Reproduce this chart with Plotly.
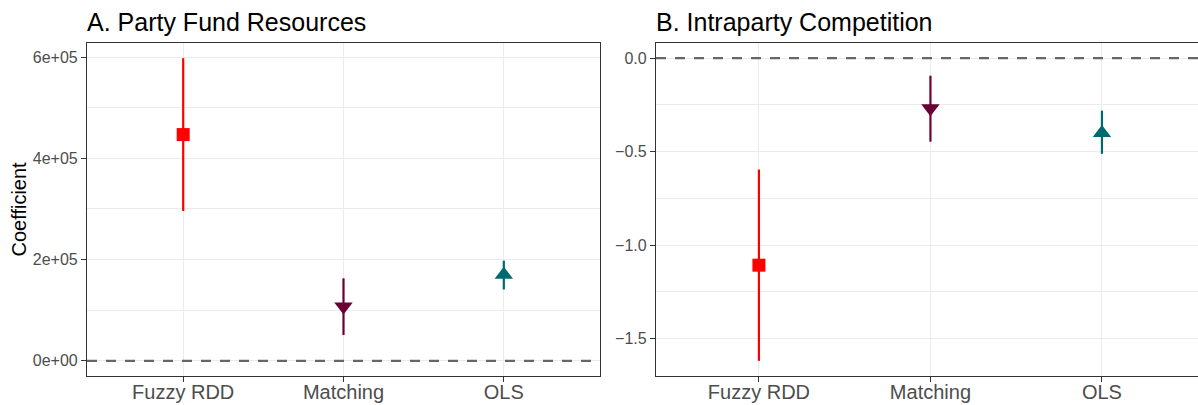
import plotly.graph_objects as go

# ---- data ----
methods = ["Fuzzy RDD", "Matching", "OLS"]

fund_coef = [447000, 107500, 170000]
fund_lo = [296000, 51000, 141000]
fund_hi = [598000, 163000, 198000]

comp_coef = [-1.108, -0.268, -0.401]
comp_lo = [-1.62, -0.447, -0.512]
comp_hi = [-0.596, -0.094, -0.281]

colors = ["#FF0000", "#6A0034", "#00696F"]
symbols = ["square", "triangle-down", "triangle-up"]
sizes = [13, 16, 16]

fund_ticks = [0, 200000, 400000, 600000]
fund_ticktext = ["0e+00", "2e+05", "4e+05", "6e+05"]
fund_minor = [100000, 300000, 500000]
comp_ticks = [-1.5, -1.0, -0.5, 0.0]
comp_ticktext = ["\u22121.5", "\u22121.0", "\u22120.5", "0.0"]
comp_minor = [-1.25, -0.75, -0.25]

titles = ["A. Party Fund Resources", "B. Intraparty Competition"]

# ---- layout geometry ----
W, H = 1198, 405
ml, mr, mt, mb = 87, 0, 43, 29
pw = W - ml - mr
domA = [0, (600 - ml) / pw]
domB = [(656 - ml) / pw, 1.0]

FONT = "Liberation Sans, Arial, Helvetica, sans-serif"
GRID = "#EBEBEB"
AX = "#333333"
TICKC = "#4D4D4D"

fig = go.Figure()

def add_panel(coef, lo, hi, xa, ya):
    for i, m in enumerate(methods):
        fig.add_trace(go.Scatter(
            x=[m], y=[coef[i]], mode="markers",
            xaxis=xa, yaxis=ya,
            marker=dict(symbol=symbols[i], color=colors[i], size=sizes[i], line=dict(width=0)),
            error_y=dict(type="data", symmetric=False,
                         array=[hi[i] - coef[i]], arrayminus=[coef[i] - lo[i]],
                         color=colors[i], thickness=2.2, width=0),
            showlegend=False, hoverinfo="skip",
        ))

add_panel(fund_coef, fund_lo, fund_hi, "x", "y")
add_panel(comp_coef, comp_lo, comp_hi, "x2", "y2")

xcommon = dict(type="category", categoryorder="array", categoryarray=methods,
               showline=True, linecolor=AX, linewidth=1.2,
               ticks="outside", ticklen=5, tickwidth=1.1, tickcolor=AX,
               ticklabelstandoff=-7,
               showgrid=True, gridcolor=GRID, gridwidth=1.2,
               tickfont=dict(family=FONT, size=20, color=TICKC),
               zeroline=False, fixedrange=True)

fig.update_layout(
    width=W, height=H,
    margin=dict(l=ml, r=mr, t=mt, b=mb, autoexpand=False),
    paper_bgcolor="white", plot_bgcolor="white",
    font=dict(family=FONT),
    xaxis=dict(domain=domA, range=[-0.6, 2.6], mirror=True, anchor="y", **xcommon),
    xaxis2=dict(domain=domB, range=[-0.6, 2.56], mirror=True, anchor="y2", **xcommon),
    yaxis=dict(domain=[0, 1], anchor="x", range=[-29900, 627900],
               tickmode="array", tickvals=fund_ticks, ticktext=fund_ticktext,
               showline=True, mirror=True, linecolor=AX, linewidth=1.2,
               ticks="outside", ticklen=5, tickwidth=1.1, tickcolor=AX,
               showgrid=True, gridcolor=GRID, gridwidth=1.2,
               minor=dict(tickvals=fund_minor, showgrid=True, gridcolor=GRID, gridwidth=0.6, ticks=""),
               tickfont=dict(family=FONT, size=16, color=TICKC),
               zeroline=False),
    yaxis2=dict(domain=[0, 1], anchor="x2", range=[-1.701, 0.081],
                tickmode="array", tickvals=comp_ticks, ticktext=comp_ticktext,
                showline=True, mirror=False, linecolor=AX, linewidth=1.2,
                ticks="outside", ticklen=5, tickwidth=1.1, tickcolor=AX,
                showgrid=True, gridcolor=GRID, gridwidth=1.2,
                minor=dict(tickvals=comp_minor, showgrid=True, gridcolor=GRID, gridwidth=0.6, ticks=""),
                tickfont=dict(family=FONT, size=16, color=TICKC),
                zeroline=False),
)

# dashed zero reference lines
for xr, yr in [("x domain", "y"), ("x2 domain", "y2")]:
    fig.add_shape(type="line", xref=xr, yref=yr, x0=0, x1=1, y0=0, y1=0,
                  line=dict(color="#666666", width=2.2, dash="10px,9px"), layer="above")

# panel titles
for dom, t in zip([domA, domB], titles):
    fig.add_annotation(text=t, xref="paper", yref="paper", x=dom[0], y=1,
                       xanchor="left", yanchor="bottom", yshift=5, xshift=-2, showarrow=False,
                       font=dict(family=FONT, size=25, color="black"))

# y-axis title
fig.add_annotation(text="Coefficient", xref="paper", yref="paper", x=0, y=0.5,
                   xshift=-69, xanchor="center", yanchor="middle", textangle=-90,
                   showarrow=False, font=dict(family=FONT, size=20, color="black"))

fig.write_html("out.html")
